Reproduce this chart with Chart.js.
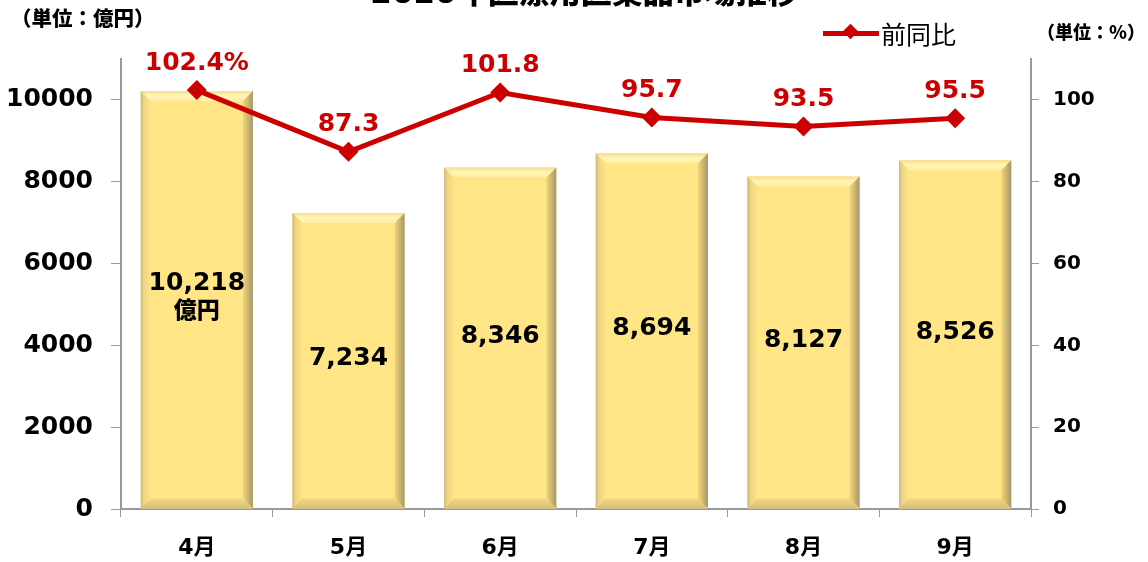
<!DOCTYPE html>
<html>
<head>
<meta charset="utf-8">
<script src="https://cdn.jsdelivr.net/npm/chart.js@4.4.0/dist/chart.umd.min.js"></script>
<style>
  html, body { margin: 0; padding: 0; background: #fff; overflow: hidden; }
  #wrap { position: relative; width: 1148px; height: 562px; }
  canvas { position: absolute; left: 0; top: 0; }
  .txt { position: absolute; white-space: nowrap; font-family: "DejaVu Sans", "Noto Sans CJK JP", sans-serif; color: #000; }
  #title { left: 0; width: 1168px; text-align: center; top: -23px; font-size: 31px; line-height: 31px; font-weight: 900; font-family: "DejaVu Sans", "Noto Sans CJK JP", sans-serif; }
  #unitL { left: 11px; top: 4px; font-size: 20.5px; line-height: 26px; font-weight: 900; font-family: "Noto Sans CJK JP", sans-serif; }
  #unitR { left: 1037px; top: 18px; font-size: 18px; line-height: 26px; font-weight: 900; font-family: "Noto Sans CJK JP", sans-serif; }
  #legend { left: 823px; top: 18px; font-size: 25px; line-height: 30px; font-family: "Noto Sans CJK JP", sans-serif; }
  #legend .ln { position: absolute; left: 0; top: 13px; width: 56px; height: 5px; background: #CC0000; }
  #legend .dm { position: absolute; left: 22px; top: 8px; width: 11px; height: 11px; background: #CC0000; transform: rotate(45deg); }
  #legend .lt { position: absolute; left: 58px; top: 0; }
</style>
</head>
<body>
<div id="wrap">
  <canvas id="c" width="1148" height="562"></canvas>
  <div class="txt" id="title">2020年医療用医薬品市場推移</div>
  <div class="txt" id="unitL">（単位：億円）</div>
  <div class="txt" id="unitR">（単位：％）</div>
  <div class="txt" id="legend"><span class="ln"></span><span class="dm"></span><span class="lt">前同比</span></div>
</div>
<script>
const categories = ["4月", "5月", "6月", "7月", "8月", "9月"];
const marketValues = [10218, 7234, 8346, 8694, 8127, 8526];
const yoyValues = [102.4, 87.3, 101.8, 95.7, 93.5, 95.5];
const barLabels = [["10,218", "億円"], ["7,234"], ["8,346"], ["8,694"], ["8,127"], ["8,526"]];
const yoyLabels = ["102.4%", "87.3", "101.8", "95.7", "93.5", "95.5"];
const leftTicks = [0, 2000, 4000, 6000, 8000, 10000];
const rightTicks = [0, 20, 40, 60, 80, 100];

const FONT = '"DejaVu Sans", "Noto Sans CJK JP", sans-serif';

const bevelPlugin = {
  id: 'bevel',
  afterDatasetDraw(chart, args) {
    if (args.index !== 0) return;
    const ctx = chart.ctx;
    const meta = args.meta;
    meta.data.forEach(bar => {
      const p = bar.getProps(['x', 'y', 'base', 'width'], true);
      const l = p.x - p.width / 2, r = p.x + p.width / 2, t = p.y, b = p.base;
      const s = 10;
      ctx.save();
      let g = ctx.createLinearGradient(0, t, 0, t + s);
      g.addColorStop(0, '#F7DC86'); g.addColorStop(0.45, '#FFF5B8'); g.addColorStop(1, '#FFEFA2');
      ctx.fillStyle = g;
      ctx.beginPath(); ctx.moveTo(l, t); ctx.lineTo(r, t); ctx.lineTo(r - s, t + s); ctx.lineTo(l + s, t + s); ctx.closePath(); ctx.fill();
      g = ctx.createLinearGradient(l, 0, l + s, 0);
      g.addColorStop(0, '#CDB97E'); g.addColorStop(0.35, '#EFD682'); g.addColorStop(1, '#FFE385');
      ctx.fillStyle = g;
      ctx.beginPath(); ctx.moveTo(l, t); ctx.lineTo(l + s, t + s); ctx.lineTo(l + s, b - s); ctx.lineTo(l, b); ctx.closePath(); ctx.fill();
      g = ctx.createLinearGradient(r - s, 0, r, 0);
      g.addColorStop(0, '#F2D67C'); g.addColorStop(0.6, '#C6B06C'); g.addColorStop(1, '#A39773');
      ctx.fillStyle = g;
      ctx.beginPath(); ctx.moveTo(r, t); ctx.lineTo(r, b); ctx.lineTo(r - s, b - s); ctx.lineTo(r - s, t + s); ctx.closePath(); ctx.fill();
      g = ctx.createLinearGradient(0, b - s, 0, b);
      g.addColorStop(0, '#F3D880'); g.addColorStop(1, '#D2BD7C');
      ctx.fillStyle = g;
      ctx.beginPath(); ctx.moveTo(l, b); ctx.lineTo(r, b); ctx.lineTo(r - s, b - s); ctx.lineTo(l + s, b - s); ctx.closePath(); ctx.fill();
      ctx.restore();
    });
  }
};

const labelPlugin = {
  id: 'vlabels',
  afterDatasetsDraw(chart) {
    const ctx = chart.ctx;
    ctx.save();
    ctx.textAlign = 'center';
    ctx.textBaseline = 'middle';
    const m0 = chart.getDatasetMeta(0);
    m0.data.forEach((bar, i) => {
      const p = bar.getProps(['x', 'y', 'base'], true);
      const lines = barLabels[i];
      const lh = 28;
      const cy = (p.y + p.base) / 2 - 2;
      const y0 = cy - (lines.length - 1) * lh / 2;
      lines.forEach((ln, k) => {
        ctx.fillStyle = '#000';
        ctx.font = (k === 0 ? 'bold 25px ' : '900 23px ') + FONT;
        ctx.fillText(ln, p.x, y0 + k * lh);
      });
    });
    const m1 = chart.getDatasetMeta(1);
    m1.data.forEach((pt, i) => {
      const p = pt.getProps(['x', 'y'], true);
      ctx.fillStyle = '#CC0000';
      ctx.font = 'bold 25px ' + FONT;
      ctx.fillText(yoyLabels[i], p.x, p.y - 27);
    });
    ctx.restore();
  }
};

new Chart(document.getElementById('c'), {
  data: {
    labels: categories,
    datasets: [
      {
        type: 'bar',
        label: '市場',
        data: marketValues,
        yAxisID: 'y',
        backgroundColor: '#FFE585',
        borderWidth: 0,
        barPercentage: 0.74,
        categoryPercentage: 1.0,
        order: 1
      },
      {
        type: 'line',
        label: '前同比',
        data: yoyValues,
        yAxisID: 'y1',
        borderColor: '#CC0000',
        backgroundColor: '#CC0000',
        borderWidth: 5,
        pointStyle: 'rectRot',
        pointRadius: 10,
        pointHoverRadius: 10,
        pointBorderWidth: 0,
        tension: 0,
        order: 0
      }
    ]
  },
  options: {
    responsive: false,
    animation: false,
    events: [],
    layout: { padding: { top: 59, left: 0, right: 0, bottom: 0 } },
    plugins: { legend: { display: false }, tooltip: { enabled: false }, title: { display: false } },
    scales: {
      x: {
        grid: { display: true, drawOnChartArea: false, drawTicks: true, tickLength: 8, color: '#999', offset: true },
        border: { display: true, color: '#999', width: 2 },
        ticks: { color: '#000', font: { family: FONT, size: 22, weight: 'bold' }, padding: 18 },
        afterFit(s) { s.height = 53; }
      },
      y: {
        position: 'left',
        min: 0, max: 11000,
        afterBuildTicks(s) { s.ticks = leftTicks.map(v => ({ value: v })); },
        grid: { display: true, drawOnChartArea: false, drawTicks: true, tickLength: 10, color: '#999' },
        border: { display: true, color: '#999', width: 2 },
        ticks: { color: '#000', font: { family: FONT, size: 25, weight: 'bold' }, padding: 18, callback: v => String(v) },
        afterFit(s) { s.width = 121; }
      },
      y1: {
        position: 'right',
        min: 0, max: 110,
        afterBuildTicks(s) { s.ticks = rightTicks.map(v => ({ value: v })); },
        grid: { display: true, drawOnChartArea: false, drawTicks: true, tickLength: 8, color: '#999' },
        border: { display: true, color: '#999', width: 2 },
        ticks: { color: '#000', font: { family: FONT, size: 20, weight: 'bold' }, padding: 14, callback: v => String(v) },
        afterFit(s) { s.width = 117; }
      }
    }
  },
  plugins: [bevelPlugin, labelPlugin]
});
</script>
</body>
</html>
